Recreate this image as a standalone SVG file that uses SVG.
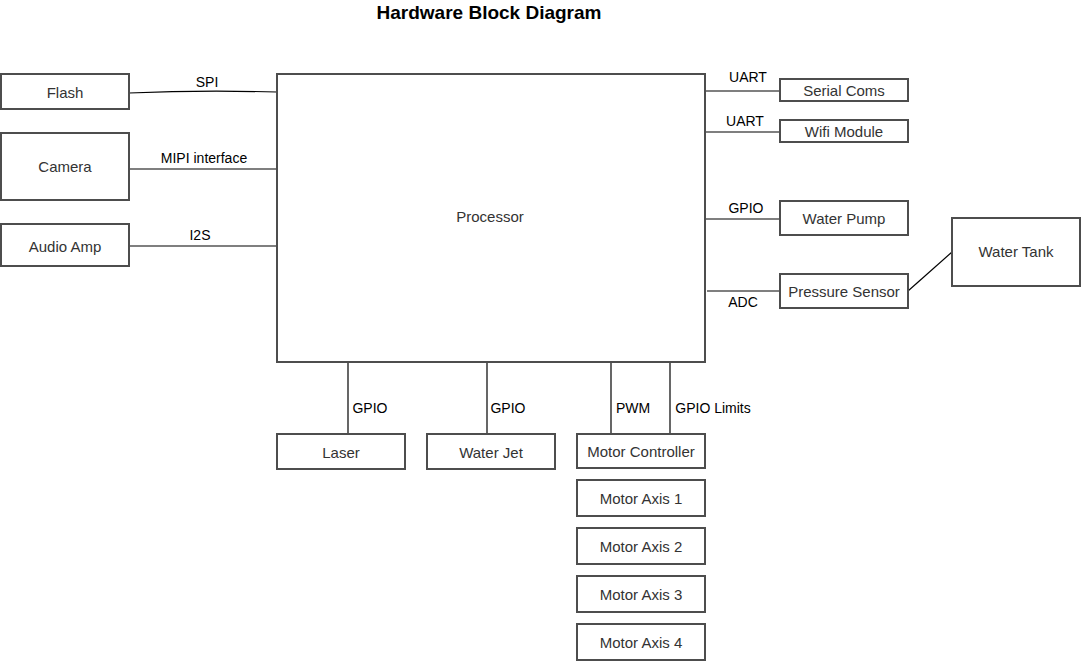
<svg xmlns="http://www.w3.org/2000/svg" width="1081" height="661" viewBox="0 0 1081 661">
<style>
.box{fill:#fff;stroke:#4d4d4d;stroke-width:2}
.nt{font-family:"Liberation Sans",Arial,sans-serif;font-size:15px;fill:#333;text-anchor:middle;dominant-baseline:central}
.lb{font-family:"Liberation Sans",Arial,sans-serif;font-size:14px;fill:#000;text-anchor:middle;dominant-baseline:central}
.ln{fill:none;stroke:#000;stroke-width:1.2}
.title{font-family:"Liberation Sans",Arial,sans-serif;font-size:19px;font-weight:bold;fill:#000;text-anchor:middle;dominant-baseline:central}
</style>
<rect width="1081" height="661" fill="#fff"/>
<text class="title" x="489" y="12">Hardware Block Diagram</text>
<g id="connectors">
<path class="ln" d="M129,93 Q200,90 277,92"/>
<path class="ln" d="M129,169 H277"/>
<path class="ln" d="M129,246 H277"/>
<path class="ln" d="M705,91 H780"/>
<path class="ln" d="M705,132 H780"/>
<path class="ln" d="M705,219 H780"/>
<path class="ln" d="M707,291 H780"/>
<path class="ln" d="M908,291 L952,252"/>
<path class="ln" d="M348,362 V434"/>
<path class="ln" d="M487,362 V434"/>
<path class="ln" d="M611,362 V434"/>
<path class="ln" d="M670,362 V434"/>
<text class="lb" x="207" y="82">SPI</text>
<text class="lb" x="204" y="158">MIPI interface</text>
<text class="lb" x="200" y="235">I2S</text>
<text class="lb" x="748" y="77">UART</text>
<text class="lb" x="745" y="121">UART</text>
<text class="lb" x="746" y="208">GPIO</text>
<text class="lb" x="743" y="302">ADC</text>
<text class="lb" x="370" y="408">GPIO</text>
<text class="lb" x="508" y="408">GPIO</text>
<text class="lb" x="633" y="408">PWM</text>
<text class="lb" x="713" y="408">GPIO Limits</text>
</g>
<g id="processor"><rect class="box" x="277" y="74" width="428" height="288"/><text class="nt" x="490" y="216">Processor</text></g>
<g id="flash"><rect class="box" x="1" y="74" width="128" height="35"/><text class="nt" x="65" y="92">Flash</text></g>
<g id="camera"><rect class="box" x="1" y="133" width="128" height="67"/><text class="nt" x="65" y="166">Camera</text></g>
<g id="audio-amp"><rect class="box" x="1" y="224" width="128" height="42"/><text class="nt" x="65" y="246">Audio Amp</text></g>
<g id="serial-coms"><rect class="box" x="780" y="79" width="128" height="22"/><text class="nt" x="844" y="90">Serial Coms</text></g>
<g id="wifi-module"><rect class="box" x="780" y="120" width="128" height="22"/><text class="nt" x="844" y="131">Wifi Module</text></g>
<g id="water-pump"><rect class="box" x="780" y="201" width="128" height="34"/><text class="nt" x="844" y="218">Water Pump</text></g>
<g id="pressure-sensor"><rect class="box" x="780" y="274" width="128" height="34"/><text class="nt" x="844" y="291">Pressure Sensor</text></g>
<g id="water-tank"><rect class="box" x="952" y="218" width="128" height="68"/><text class="nt" x="1016" y="251">Water Tank</text></g>
<g id="laser"><rect class="box" x="277" y="434" width="128" height="35"/><text class="nt" x="341" y="452">Laser</text></g>
<g id="water-jet"><rect class="box" x="427" y="434" width="128" height="35"/><text class="nt" x="491" y="452">Water Jet</text></g>
<g id="motor-controller"><rect class="box" x="577" y="434" width="128" height="34"/><text class="nt" x="641" y="451">Motor Controller</text></g>
<g id="motor-axis-1"><rect class="box" x="577" y="480" width="128" height="36"/><text class="nt" x="641" y="498">Motor Axis 1</text></g>
<g id="motor-axis-2"><rect class="box" x="577" y="528" width="128" height="36"/><text class="nt" x="641" y="546">Motor Axis 2</text></g>
<g id="motor-axis-3"><rect class="box" x="577" y="576" width="128" height="36"/><text class="nt" x="641" y="594">Motor Axis 3</text></g>
<g id="motor-axis-4"><rect class="box" x="577" y="624" width="128" height="36"/><text class="nt" x="641" y="642">Motor Axis 4</text></g>
</svg>
